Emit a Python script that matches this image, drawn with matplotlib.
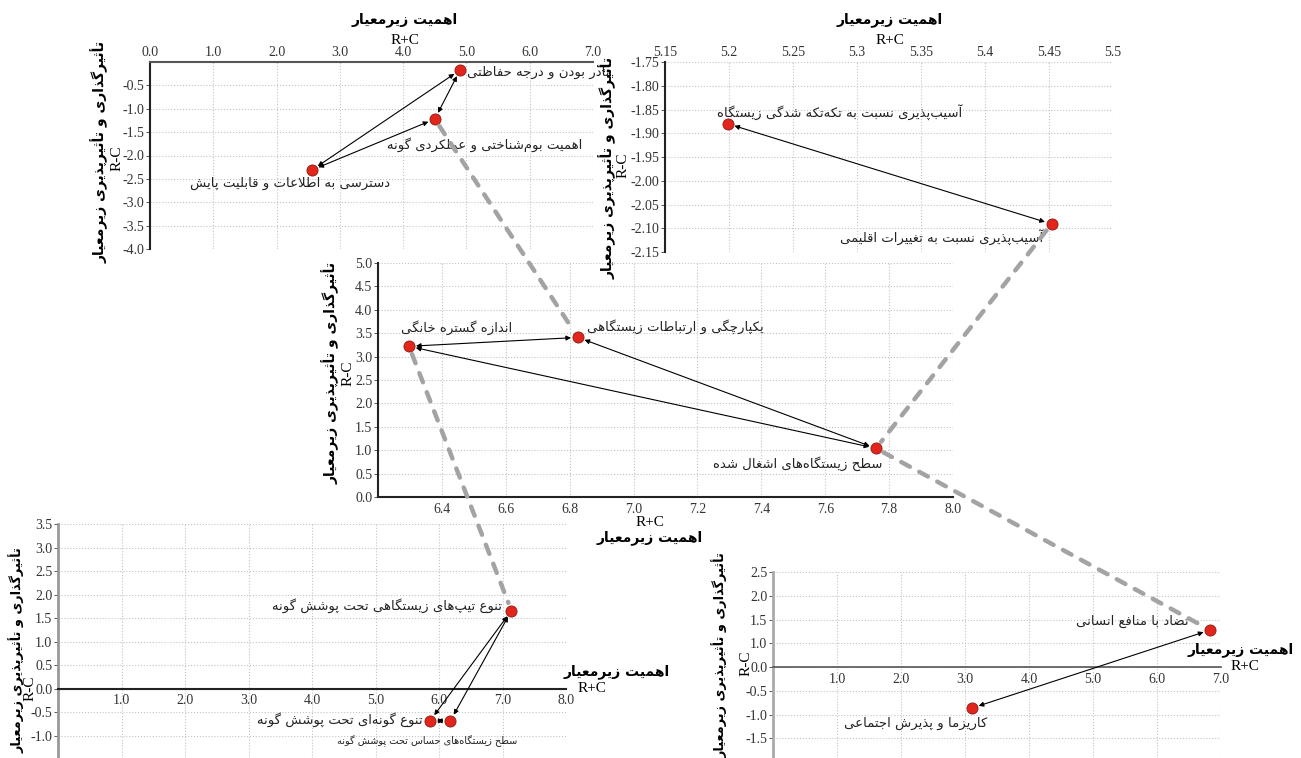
import matplotlib
matplotlib.use("Agg")
import matplotlib.pyplot as plt
from matplotlib.patches import ConnectionPatch

plt.rcParams['font.family'] = ['Liberation Serif', 'DejaVu Sans']

# --- Persian shaping (matplotlib has no bidi / joining) ---
FORMS = {
    'آ': ('\uFE81', '\uFE82', None, None),
    'أ': ('\uFE83', '\uFE84', None, None),
    'ا': ('\uFE8D', '\uFE8E', None, None),
    'ب': ('\uFE8F', '\uFE90', '\uFE91', '\uFE92'),
    'پ': ('\uFB56', '\uFB57', '\uFB58', '\uFB59'),
    'ت': ('\uFE95', '\uFE96', '\uFE97', '\uFE98'),
    'ث': ('\uFE99', '\uFE9A', '\uFE9B', '\uFE9C'),
    'ج': ('\uFE9D', '\uFE9E', '\uFE9F', '\uFEA0'),
    'چ': ('\uFB7A', '\uFB7B', '\uFB7C', '\uFB7D'),
    'ح': ('\uFEA1', '\uFEA2', '\uFEA3', '\uFEA4'),
    'خ': ('\uFEA5', '\uFEA6', '\uFEA7', '\uFEA8'),
    'د': ('\uFEA9', '\uFEAA', None, None),
    'ذ': ('\uFEAB', '\uFEAC', None, None),
    'ر': ('\uFEAD', '\uFEAE', None, None),
    'ز': ('\uFEAF', '\uFEB0', None, None),
    'ژ': ('\uFB8A', '\uFB8B', None, None),
    'س': ('\uFEB1', '\uFEB2', '\uFEB3', '\uFEB4'),
    'ش': ('\uFEB5', '\uFEB6', '\uFEB7', '\uFEB8'),
    'ص': ('\uFEB9', '\uFEBA', '\uFEBB', '\uFEBC'),
    'ض': ('\uFEBD', '\uFEBE', '\uFEBF', '\uFEC0'),
    'ط': ('\uFEC1', '\uFEC2', '\uFEC3', '\uFEC4'),
    'ظ': ('\uFEC5', '\uFEC6', '\uFEC7', '\uFEC8'),
    'ع': ('\uFEC9', '\uFECA', '\uFECB', '\uFECC'),
    'غ': ('\uFECD', '\uFECE', '\uFECF', '\uFED0'),
    'ف': ('\uFED1', '\uFED2', '\uFED3', '\uFED4'),
    'ق': ('\uFED5', '\uFED6', '\uFED7', '\uFED8'),
    'ک': ('\uFB8E', '\uFB8F', '\uFB90', '\uFB91'),
    'ك': ('\uFB8E', '\uFB8F', '\uFB90', '\uFB91'),
    'گ': ('\uFB92', '\uFB93', '\uFB94', '\uFB95'),
    'ل': ('\uFEDD', '\uFEDE', '\uFEDF', '\uFEE0'),
    'م': ('\uFEE1', '\uFEE2', '\uFEE3', '\uFEE4'),
    'ن': ('\uFEE5', '\uFEE6', '\uFEE7', '\uFEE8'),
    'ه': ('\uFEE9', '\uFEEA', '\uFEEB', '\uFEEC'),
    'و': ('\uFEED', '\uFEEE', None, None),
    'ی': ('\uFBFC', '\uFBFD', '\uFBFE', '\uFBFF'),
    'ي': ('\uFBFC', '\uFBFD', '\uFBFE', '\uFBFF'),
}
LAMALEF = {'ا': ('\uFEFB', '\uFEFC'), 'آ': ('\uFEF5', '\uFEF6'), 'أ': ('\uFEF7', '\uFEF8')}


def fa(text):
    ch = list(text)
    n = len(ch)
    out = []
    i = 0
    while i < n:
        c = ch[i]
        if c not in FORMS:
            if c != '\u200c':
                out.append(c)
            i += 1
            continue
        prev = ch[i - 1] if i > 0 else ''
        conn_prev = prev in FORMS and FORMS[prev][2] is not None
        if c == 'ل' and i + 1 < n and ch[i + 1] in LAMALEF:
            iso, fin = LAMALEF[ch[i + 1]]
            out.append(fin if conn_prev else iso)
            i += 2
            continue
        nxt = ch[i + 1] if i + 1 < n else ''
        conn_next = FORMS[c][2] is not None and nxt in FORMS
        iso, fin, ini, med = FORMS[c]
        if conn_prev and conn_next:
            out.append(med)
        elif conn_prev:
            out.append(fin)
        elif conn_next:
            out.append(ini)
        else:
            out.append(iso)
        i += 1
    return ''.join(reversed(out))


ZW = '\u200c'
IMP = 'اهمیت زیرمعیار'
EFF = 'تأثیرگذاری و تأثیرپذیری زیرمعیار'

# --- data ---
p1_x = [4.90, 4.50, 2.56]
p1_y = [-0.17, -1.22, -2.31]
p1_lab = ['نادر بودن و درجه حفاظتی',
          'اهمیت بوم' + ZW + 'شناختی و عملکردی گونه',
          'دسترسی به اطلاعات و قابلیت پایش']
p1_links = [(0, 2), (1, 2), (0, 1)]

p2_x = [5.199, 5.452]
p2_y = [-1.880, -2.091]
p2_lab = ['آسیب' + ZW + 'پذیری نسبت به تکه' + ZW + 'تکه شدگی زیستگاه',
          'آسیب' + ZW + 'پذیری نسبت به تغییرات اقلیمی']
p2_links = [(0, 1)]

p3_x = [6.297, 6.826, 7.759]
p3_y = [3.22, 3.41, 1.04]
p3_lab = ['اندازه گستره خانگی',
          'یکپارچگی و ارتباطات زیستگاهی',
          'سطح زیستگاه' + ZW + 'های اشغال شده']
p3_links = [(0, 1), (1, 2), (0, 2)]

p4_x = [7.14, 5.86, 6.18]
p4_y = [1.66, -0.68, -0.68]
p4_lab = ['تنوع تیپ' + ZW + 'های زیستگاهی تحت پوشش گونه',
          'تنوع گونه' + ZW + 'ای تحت پوشش گونه',
          'سطح زیستگاه' + ZW + 'های حساس تحت پوشش گونه']
p4_links = [(0, 1), (0, 2), (1, 2)]

p5_x = [6.83, 3.11]
p5_y = [0.78, -0.86]
p5_lab = ['تضاد با منافع انسانی', 'کاریزما و پذیرش اجتماعی']
p5_links = [(0, 1)]
p5_ytick_pos = [2.0, 1.5, 1.0, 0.5, 0.0, -0.5, -1.0, -1.5]
p5_ytick_lab = ['2.5', '2.0', '1.5', '1.0', '0.0', '-0.5', '-1.0', '-1.5']

p2_xticks = [5.15, 5.2, 5.25, 5.3, 5.35, 5.4, 5.45, 5.5]
p2_xlab = ['5.15', '5.2', '5.25', '5.3', '5.35', '5.4', '5.45', '5.5']
p2_yticks = [-1.75, -1.80, -1.85, -1.90, -1.95, -2.00, -2.05, -2.10, -2.15]

# --- figure ---
W, H = 1301, 758
fig = plt.figure(figsize=(W / 100, H / 100), dpi=100)
PERS = ['DejaVu Sans']


def box(l, t, r, b):
    return fig.add_axes([l / W, 1 - b / H, (r - l) / W, (b - t) / H])


def ftext(x, y, s, **kw):
    fig.text(x / W, 1 - y / H, s, ha='center', va='center', **kw)


def base(ax):
    ax.set_facecolor('none')
    ax.grid(True, color='#c4c4c4', ls=':', lw=0.8)
    ax.set_axisbelow(True)
    for s in ax.spines.values():
        s.set_visible(False)
    ax.tick_params(axis='both', labelsize=10, labelcolor='#333333', pad=1)
    ax.tick_params(axis='y', length=3, width=0.7, color='#555555')
    ax.tick_params(axis='x', length=0, pad=2)


def points(ax, xs, ys, labels, links, offs, fs=9.5, small=()):
    for a, b in links:
        ax.annotate('', xy=(xs[b], ys[b]), xytext=(xs[a], ys[a]),
                    arrowprops=dict(arrowstyle='<|-|>', color='black', lw=0.8,
                                    mutation_scale=7, shrinkA=5, shrinkB=5),
                    zorder=3)
    ax.scatter(xs, ys, s=64, color='#e3261c', edgecolor='#8c1a12', lw=0.6, zorder=4)
    for i, (x, y, t) in enumerate(zip(xs, ys, labels)):
        dx, dy = offs[i]
        ax.annotate(fa(t), xy=(x, y), xytext=(dx, dy), textcoords='offset pixels',
                    ha='center', va='center', family=PERS,
                    fontsize=7 if i in small else fs, color='#222222',
                    annotation_clip=False)


# panel 1 (top left)
ax1 = box(150, 62, 593, 249)
base(ax1)
ax1.set_xlim(0, 7)
ax1.set_ylim(-4, 0)
ax1.xaxis.tick_top()
ax1.set_xticks([0, 1, 2, 3, 4, 5, 6, 7])
ax1.set_xticklabels(['%.1f' % v for v in range(8)])
ax1.set_yticks([-0.5 * k for k in range(1, 9)])
ax1.set_yticklabels(['%.1f' % (-0.5 * k) for k in range(1, 9)])
ax1.spines['top'].set_visible(True)
ax1.spines['top'].set_color('#555555')
ax1.spines['top'].set_linewidth(1.5)
ax1.spines['left'].set_visible(True)
ax1.spines['left'].set_color('#222222')
ax1.spines['left'].set_linewidth(1.5)
points(ax1, p1_x, p1_y, p1_lab, p1_links, [(78, -2), (50, -26), (-22, -13)])
ftext(405, 20, fa(IMP), family=PERS, fontsize=10, fontweight='bold')
ftext(405, 40, 'R+C', fontsize=11)
ftext(100, 152, fa(EFF), family=PERS, fontsize=10, fontweight='bold', rotation=90)
ftext(117, 158, 'R-C', fontsize=11, rotation=90)

# panel 2 (top right)
ax2 = box(665, 62, 1113, 252)
base(ax2)
ax2.set_xlim(5.15, 5.5)
ax2.set_ylim(-2.15, -1.75)
ax2.xaxis.tick_top()
ax2.set_xticks(p2_xticks)
ax2.set_xticklabels(p2_xlab)
ax2.set_yticks(p2_yticks)
ax2.set_yticklabels(['%.2f' % v for v in p2_yticks])
ax2.spines['left'].set_visible(True)
ax2.spines['left'].set_color('#222222')
ax2.spines['left'].set_linewidth(1.5)
points(ax2, p2_x, p2_y, p2_lab, p2_links, [(112, 12), (-110, -13)])
ftext(890, 20, fa(IMP), family=PERS, fontsize=10, fontweight='bold')
ftext(890, 40, 'R+C', fontsize=11)
ftext(608, 168, fa(EFF), family=PERS, fontsize=10, fontweight='bold', rotation=90)
ftext(623, 165, 'R-C', fontsize=11, rotation=90)

# panel 3 (centre)
ax3 = box(378, 263, 953, 497)
base(ax3)
ax3.set_xlim(6.2, 8.0)
ax3.set_ylim(0, 5)
ax3.set_xticks([6.4, 6.6, 6.8, 7.0, 7.2, 7.4, 7.6, 7.8, 8.0])
ax3.set_xticklabels(['6.4', '6.6', '6.8', '7.0', '7.2', '7.4', '7.6', '7.8', '8.0'])
ax3.set_yticks([0.5 * k for k in range(11)])
ax3.set_yticklabels(['%.1f' % (0.5 * k) for k in range(11)])
for s in ('left', 'bottom'):
    ax3.spines[s].set_visible(True)
    ax3.spines[s].set_color('#222222')
    ax3.spines[s].set_linewidth(1.5)
ax3.tick_params(axis='x', pad=4)
points(ax3, p3_x, p3_y, p3_lab, p3_links, [(48, 19), (97, 11), (-78, -15)])
ftext(650, 523, 'R+C', fontsize=11)
ftext(650, 538, fa(IMP), family=PERS, fontsize=10, fontweight='bold')
ftext(331, 373, fa(EFF), family=PERS, fontsize=10, fontweight='bold', rotation=90)
ftext(348, 373, 'R-C', fontsize=11, rotation=90)

# panel 4 (bottom left)
ax4 = box(58, 524, 566, 758)
base(ax4)
ax4.set_xlim(0, 8)
ax4.set_ylim(-1.47, 3.5)
ax4.set_xticks([1, 2, 3, 4, 5, 6, 7, 8])
ax4.set_xticklabels(['%.1f' % v for v in range(1, 9)])
ax4.set_yticks([-1.0 + 0.5 * k for k in range(10)])
ax4.set_yticklabels(['%.1f' % (-1.0 + 0.5 * k) for k in range(10)])
ax4.spines['bottom'].set_visible(True)
ax4.spines['bottom'].set_position(('data', 0))
ax4.spines['bottom'].set_color('#222222')
ax4.spines['bottom'].set_linewidth(1.5)
ax4.spines['left'].set_visible(True)
ax4.spines['left'].set_color('#999999')
ax4.spines['left'].set_linewidth(2)
ax4.tick_params(axis='x', pad=4)
points(ax4, p4_x, p4_y, p4_lab, p4_links, [(-124, 5), (-90, 1), (-23, -20)], small=(2,))
ftext(617, 672, fa(IMP), family=PERS, fontsize=10, fontweight='bold')
ftext(592, 689, 'R+C', fontsize=11)
ftext(17, 650, fa(EFF), family=PERS, fontsize=9.3, fontweight='bold', rotation=90)
ftext(30, 688, 'R-C', fontsize=11, rotation=90)

# panel 5 (bottom right)
ax5 = box(773, 572, 1221, 758)
base(ax5)
ax5.set_xlim(0, 7)
ax5.set_ylim(-1.91, 2.0)
ax5.set_xticks([1, 2, 3, 4, 5, 6, 7])
ax5.set_xticklabels(['%.1f' % v for v in range(1, 8)])
ax5.set_yticks(p5_ytick_pos)
ax5.set_yticklabels(p5_ytick_lab)
ax5.spines['bottom'].set_visible(True)
ax5.spines['bottom'].set_position(('data', 0))
ax5.spines['bottom'].set_color('#555555')
ax5.spines['bottom'].set_linewidth(1.2)
ax5.spines['left'].set_visible(True)
ax5.spines['left'].set_color('#aaaaaa')
ax5.spines['left'].set_linewidth(2)
ax5.tick_params(axis='x', pad=4)
points(ax5, p5_x, p5_y, p5_lab, p5_links, [(-78, 9), (-56, -15)])
ftext(1241, 650, fa(IMP), family=PERS, fontsize=10, fontweight='bold')
ftext(1245, 667, 'R+C', fontsize=11)
ftext(720, 655, fa(EFF), family=PERS, fontsize=9.3, fontweight='bold', rotation=90)
ftext(746, 663, 'R-C', fontsize=11, rotation=90)

# dashed connectors between the panels
links = [(ax1, p1_x[1], p1_y[1], ax3, p3_x[1], p3_y[1]),
         (ax2, p2_x[1], p2_y[1], ax3, p3_x[2], p3_y[2]),
         (ax3, p3_x[0], p3_y[0], ax4, p4_x[0], p4_y[0]),
         (ax3, p3_x[2], p3_y[2], ax5, p5_x[0], p5_y[0])]
for axa, xa, ya, axb, xb, yb in links:
    con = ConnectionPatch(xyA=(xa, ya), coordsA=axa.transData,
                          xyB=(xb, yb), coordsB=axb.transData,
                          color='#a3a3a3', lw=3.2, linestyle=(0, (2.2, 2.4)),
                          shrinkA=6, shrinkB=6)
    fig.add_artist(con)

fig.savefig('out.png', dpi=100)
